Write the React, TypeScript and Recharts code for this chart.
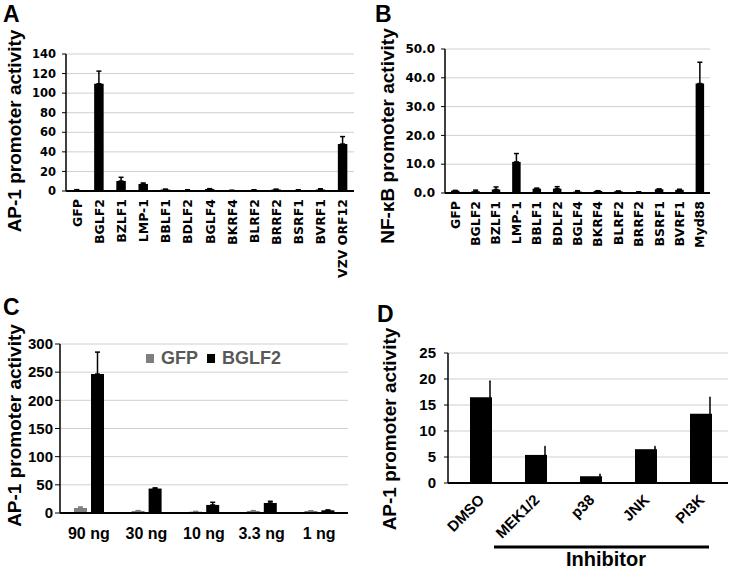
import React from 'react';
import {
  BarChart,
  Bar,
  XAxis,
  YAxis,
  CartesianGrid,
  ErrorBar,
  Legend,
  Label,
} from 'recharts';

const ARIAL = "'Liberation Sans', Arial, sans-serif";
const VERDANA = "'DejaVu Sans', Verdana, sans-serif";

// Panel A: AP-1 reporter, EBV genes
const genesA = ['GFP', 'BGLF2', 'BZLF1', 'LMP-1', 'BBLF1', 'BDLF2', 'BGLF4', 'BKRF4', 'BLRF2', 'BRRF2', 'BSRF1', 'BVRF1', 'VZV ORF12'];
const ap1ValuesA = [1, 109.6, 10.2, 7.2, 1.5, 1, 2, 0.5, 1, 1.5, 1, 1.5, 48];
const ap1ErrorsA = [0.4, 12.9, 3.8, 1, 0.4, 0.3, 0.4, 0.2, 0.3, 0.3, 0.3, 0.8, 7.6];
const ticksA = [0, 20, 40, 60, 80, 100, 120, 140];

// Panel B: NF-kB reporter
const genesB = ['GFP', 'BGLF2', 'BZLF1', 'LMP-1', 'BBLF1', 'BDLF2', 'BGLF4', 'BKRF4', 'BLRF2', 'BRRF2', 'BSRF1', 'BVRF1', 'Myd88'];
const nfkbValuesB = [0.8, 0.6, 1.2, 10.8, 1.5, 1.5, 0.5, 0.7, 0.6, 0.35, 1.3, 1.1, 38];
const nfkbErrorsB = [0.1, 0.4, 0.9, 2.9, 0.2, 0.7, 0.3, 0.1, 0.1, 0.05, 0.1, 0.2, 7.4];
const ticksB = [0, 10, 20, 30, 40, 50];

// Panel C: dose response
const dosesC = ['90 ng', '30 ng', '10 ng', '3.3 ng', '1 ng'];
const gfpValuesC = [8.9, 3.6, 2.4, 3.6, 3.6];
const gfpErrorsC = [1.8, 0.6, 0.4, 0.6, 0.4];
const bglf2ValuesC = [246.6, 43.4, 14.3, 17.8, 4.8];
const bglf2ErrorsC = [39, 1.2, 4.7, 3, 0.5];
const ticksC = [0, 50, 100, 150, 200, 250, 300];
const legendOrderC = ['GFP', 'BGLF2'];

// Panel D: inhibitors
const treatmentsD = ['DMSO', 'MEK1/2', 'p38', 'JNK', 'PI3K'];
const ap1ValuesD = [16.5, 5.4, 1.3, 6.5, 13.3];
const ap1ErrorsD = [3.1, 1.6, 0.4, 0.5, 3.2];
const ticksD = [0, 5, 10, 15, 20, 25];

const dataA = genesA.map((name, i) => ({ name, value: ap1ValuesA[i], err: [0, ap1ErrorsA[i]] }));
const dataB = genesB.map((name, i) => ({ name, value: nfkbValuesB[i], err: [0, nfkbErrorsB[i]] }));
const dataC = dosesC.map((name, i) => ({
  name,
  gfp: gfpValuesC[i],
  gfpErr: [0, gfpErrorsC[i]],
  bglf2: bglf2ValuesC[i],
  bglf2Err: [0, bglf2ErrorsC[i]],
}));
const dataD = treatmentsD.map((name, i) => ({ name, value: ap1ValuesD[i], err: [0, ap1ErrorsD[i]] }));

const gridColor = '#d0d0d0';

function VerticalTick({ x, y, payload }: any) {
  return (
    <g transform={`translate(${x},${y})`}>
      <text
        x={-8}
        y={0}
        dy="0.36em"
        textAnchor="end"
        transform="rotate(-90)"
        fontSize={12.5}
        fontWeight="bold"
        fontFamily={VERDANA}
        fill="#000"
      >
        {payload.value}
      </text>
    </g>
  );
}

function DoseTick({ x, y, payload }: any) {
  return (
    <text x={x} y={y + 26} textAnchor="middle" fontSize={16} fontWeight="bold" fontFamily={ARIAL} fill="#000">
      {payload.value}
    </text>
  );
}

function DiagonalTick({ x, y, payload }: any) {
  return (
    <g transform={`translate(${x + 1},${y + 14})`}>
      <text
        x={0}
        y={0}
        dy="0.36em"
        textAnchor="end"
        transform="rotate(-45)"
        fontSize={15}
        fontWeight="bold"
        fontFamily={ARIAL}
        fill="#000"
      >
        {payload.value}
      </text>
    </g>
  );
}

function yLabel(text: string, x: number, cy: number) {
  return (
    <Label
      value={text}
      content={() => (
        <text
          x={x}
          y={cy}
          textAnchor="middle"
          transform={`rotate(-90, ${x}, ${cy})`}
          fontSize={19}
          fontWeight="bold"
          fontFamily={ARIAL}
          fill="#000"
        >
          {text}
        </text>
      )}
    />
  );
}

function DoseLegend({ payload }: any) {
  const entries = [...(payload || [])].sort(
    (a: any, b: any) => legendOrderC.indexOf(a.value) - legendOrderC.indexOf(b.value)
  );
  return (
    <div style={{ display: 'flex', alignItems: 'center', fontFamily: ARIAL, fontWeight: 'bold', fontSize: 18, color: '#595959' }}>
      {entries.map((entry: any) => (
        <span key={entry.value} style={{ display: 'flex', alignItems: 'center', marginRight: 9 }}>
          <span style={{ width: 8, height: 9, background: entry.color, marginRight: 7, display: 'inline-block' }} />
          {entry.value}
        </span>
      ))}
    </div>
  );
}

const tickStyleSmall = { fontSize: 11.5, fontWeight: 'bold', fontFamily: VERDANA, fill: '#000' };
const tickStyleLarge = { fontSize: 15, fontWeight: 'bold', fontFamily: ARIAL, fill: '#000' };

export default function App() {
  return (
    <div style={{ position: 'absolute', left: 0, top: 0, width: 733, height: 572, background: '#fff', overflow: 'hidden' }}>
      <div style={{ position: 'absolute', left: 0, top: 0 }}>
        <BarChart width={366} height={290} data={dataA} margin={{ top: 54, right: 12, left: 0, bottom: 9 }}>
          <CartesianGrid vertical={false} stroke={gridColor} />
          <XAxis
            dataKey="name"
            interval={0}
            height={90}
            tickLine={false}
            tickSize={0}
            tickMargin={0}
            axisLine={{ stroke: '#000', strokeWidth: 2 }}
            tick={<VerticalTick />}
          />
          <YAxis
            width={66}
            domain={[0, 140]}
            ticks={ticksA}
            interval={0}
            tickSize={4}
            tickMargin={6}
            tick={tickStyleSmall}
            tickLine={{ stroke: '#000' }}
            axisLine={{ stroke: '#000', strokeWidth: 1.5 }}
          >
            {yLabel('AP-1 promoter activity', 21, 131)}
          </YAxis>
          <Bar dataKey="value" fill="#000" barSize={9.5} isAnimationActive={false}>
            <ErrorBar dataKey="err" direction="y" width={2.5} stroke="#000" strokeWidth={1.5} />
          </Bar>
        </BarChart>
      </div>

      <div style={{ position: 'absolute', left: 366, top: 0 }}>
        <BarChart width={367} height={290} data={dataB} margin={{ top: 49, right: 23, left: 0, bottom: 7 }}>
          <CartesianGrid vertical={false} stroke={gridColor} />
          <XAxis
            dataKey="name"
            interval={0}
            height={90}
            tickLine={false}
            tickSize={0}
            tickMargin={0}
            axisLine={{ stroke: '#000', strokeWidth: 2 }}
            tick={<VerticalTick />}
          />
          <YAxis
            width={79}
            domain={[0, 50]}
            ticks={ticksB}
            interval={0}
            tickSize={4}
            tickMargin={6}
            tickFormatter={(v: number) => v.toFixed(1)}
            tick={{ ...tickStyleSmall, fontSize: 12 }}
            tickLine={{ stroke: '#000' }}
            axisLine={{ stroke: '#000', strokeWidth: 1.5 }}
          >
            {yLabel('NF-\u03BAB promoter activity', 28, 136)}
          </YAxis>
          <Bar dataKey="value" fill="#000" barSize={8.5} isAnimationActive={false}>
            <ErrorBar dataKey="err" direction="y" width={2.5} stroke="#000" strokeWidth={1.5} />
          </Bar>
        </BarChart>
      </div>

      <div style={{ position: 'absolute', left: 0, top: 290 }}>
        <BarChart width={366} height={282} data={dataC} barGap={4} margin={{ top: 54, right: 18, left: 0, bottom: 19 }}>
          <CartesianGrid vertical={false} stroke={gridColor} />
          <XAxis
            dataKey="name"
            interval={0}
            height={40}
            tickLine={false}
            tickSize={0}
            tickMargin={0}
            axisLine={{ stroke: '#000', strokeWidth: 2 }}
            tick={<DoseTick />}
          />
          <YAxis
            width={60}
            domain={[0, 300]}
            ticks={ticksC}
            interval={0}
            tickSize={5}
            tickMargin={2}
            tick={tickStyleLarge}
            tickLine={{ stroke: '#000' }}
            axisLine={{ stroke: '#000', strokeWidth: 1.5 }}
          >
            {yLabel('AP-1 promoter activity', 21, 135.5)}
          </YAxis>
          <Legend
            layout="horizontal"
            verticalAlign="middle"
            align="center"
            content={<DoseLegend />}
            wrapperStyle={{ position: 'absolute', top: 58, left: 146, width: 'auto' }}
          />
          <Bar dataKey="gfp" name="GFP" fill="#7f7f7f" barSize={13} isAnimationActive={false}>
            <ErrorBar dataKey="gfpErr" direction="y" width={2.5} stroke="#7f7f7f" strokeWidth={1.5} />
          </Bar>
          <Bar dataKey="bglf2" name="BGLF2" fill="#000" barSize={13} isAnimationActive={false}>
            <ErrorBar dataKey="bglf2Err" direction="y" width={2.5} stroke="#000" strokeWidth={1.5} />
          </Bar>
        </BarChart>
      </div>

      <div style={{ position: 'absolute', left: 366, top: 290 }}>
        <BarChart width={367} height={282} data={dataD} margin={{ top: 63, right: 5, left: 0, bottom: 9 }}>
          <CartesianGrid vertical={false} stroke={gridColor} />
          <XAxis
            dataKey="name"
            interval={0}
            height={80}
            padding={{ left: 5 }}
            tickLine={false}
            tickSize={0}
            tickMargin={0}
            axisLine={{ stroke: '#000', strokeWidth: 2 }}
            tick={<DiagonalTick />}
          />
          <YAxis
            width={82}
            domain={[0, 25]}
            ticks={ticksD}
            interval={0}
            tickSize={4}
            tickMargin={8}
            tick={tickStyleLarge}
            tickLine={{ stroke: '#000' }}
            axisLine={{ stroke: '#000', strokeWidth: 1.5 }}
          >
            {yLabel('AP-1 promoter activity', 30, 139)}
          </YAxis>
          <Bar dataKey="value" fill="#000" barSize={22} isAnimationActive={false}>
            <ErrorBar dataKey="err" direction="y" width={0.5} stroke="#000" strokeWidth={1.5} transform="translate(9,0)" />
          </Bar>
        </BarChart>
      </div>

      <svg width={733} height={572} style={{ position: 'absolute', left: 0, top: 0, pointerEvents: 'none' }}>
        <g fontFamily={ARIAL} fontWeight="bold" fill="#000">
          <text x={3} y={22} fontSize={23}>A</text>
          <text x={375} y={22} fontSize={23}>B</text>
          <text x={3} y={315} fontSize={23}>C</text>
          <text x={377} y={322} fontSize={23}>D</text>
          <line x1={494} y1={547} x2={709} y2={547} stroke="#000" strokeWidth={3} />
          <text x={606} y={566} fontSize={20} textAnchor="middle">Inhibitor</text>
        </g>
      </svg>
    </div>
  );
}
